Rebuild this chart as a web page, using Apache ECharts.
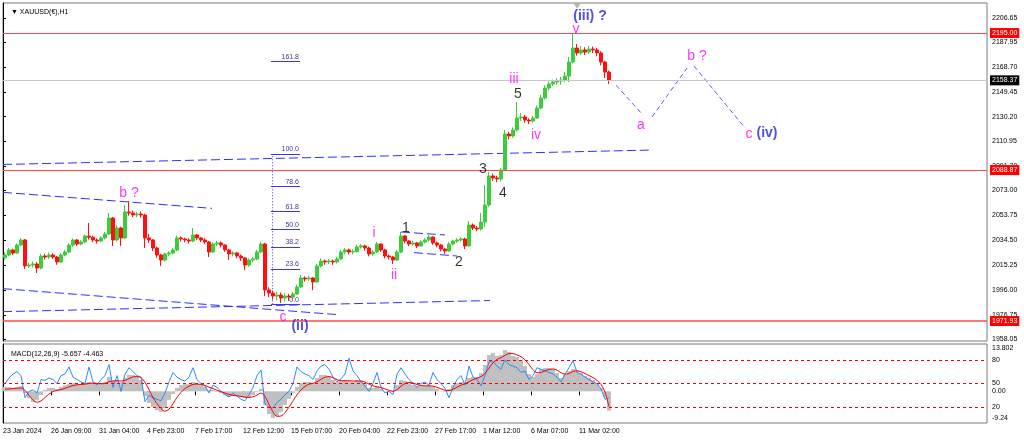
<!DOCTYPE html>
<html><head><meta charset="utf-8">
<script src="https://cdn.jsdelivr.net/npm/echarts@6/dist/echarts.min.js"></script>
<style>html,body{margin:0;padding:0;background:#fff}#c{width:1024px;height:441px}</style>
</head><body><div id="c"></div>
<script>
// ---------- DATA ----------
const timeLabels = ['23 Jan 2024','26 Jan 09:00','31 Jan 04:00','4 Feb 23:00','7 Feb 17:00','12 Feb 12:00','15 Feb 07:00','20 Feb 04:00','22 Feb 23:00','27 Feb 17:00','1 Mar 12:00','6 Mar 07:00','11 Mar 02:00'];
const timeTickPos = [0,12,24,36,48,60,72,84,96,108,120,132,144];
const priceTicks = [2206.65,2187.95,2168.70,2149.45,2130.20,2110.95,2091.70,2073.00,2053.75,2034.50,2015.25,1996.00,1976.75,1958.05];
const macdTicks = [13.802, 0, -9.24];
const oscLevels = [80, 50, 20];
const resistanceLevels = [2195.00, 2088.87, 1971.93];
const bidPrice = 2158.37;
const chartShiftX = 143.5;

// candles: [open, close, low, high]
const candles = [
[2021.0,2023.1,2019.5,2025.0],[2023.1,2027.0,2022.0,2028.5],[2027.0,2024.6,2023.0,2028.0],[2024.6,2030.8,2024.0,2032.0],
[2030.8,2034.7,2030.0,2036.3],[2034.7,2014.6,2012.2,2035.5],[2014.6,2015.3,2013.0,2017.0],[2015.3,2016.1,2013.5,2018.0],[2016.1,2013.0,2009.1,2017.5],
[2013.0,2022.3,2012.0,2024.0],[2022.3,2021.5,2019.5,2024.0],[2021.5,2023.1,2020.0,2025.0],[2023.1,2021.5,2020.0,2024.5],[2021.5,2017.7,2015.5,2022.5],
[2017.7,2023.1,2017.0,2024.5],[2023.1,2025.4,2022.0,2027.0],[2025.4,2030.8,2024.5,2032.0],[2030.8,2034.7,2029.5,2036.0],[2034.7,2031.6,2030.0,2035.5],
[2031.6,2033.2,2030.5,2034.5],[2033.2,2037.8,2032.0,2039.0],[2037.8,2036.9,2035.0,2047.9],[2036.9,2034.7,2033.0,2038.0],[2034.7,2033.9,2032.0,2036.0],
[2033.9,2036.3,2033.0,2037.5],[2036.3,2039.3,2035.0,2041.0],[2039.3,2051.7,2038.5,2055.6],[2051.7,2034.7,2030.1,2052.5],[2034.7,2044.0,2033.5,2046.0],
[2044.0,2036.3,2030.1,2045.0],[2036.3,2056.4,2035.5,2061.8],[2056.4,2055.6,2053.5,2064.9],[2055.6,2054.1,2052.5,2057.5],[2054.1,2054.8,2052.5,2056.5],
[2054.8,2054.1,2052.0,2057.0],[2054.1,2036.3,2028.5,2055.0],[2036.3,2034.7,2032.5,2039.5],[2034.7,2028.5,2026.0,2035.5],[2028.5,2023.1,2021.0,2029.5],
[2023.1,2019.2,2014.6,2024.0],[2019.2,2023.9,2018.0,2025.0],[2023.9,2024.6,2022.0,2026.0],[2024.6,2027.0,2023.5,2028.5],[2027.0,2036.3,2026.0,2038.0],
[2036.3,2035.5,2033.5,2037.5],[2035.5,2034.7,2033.0,2036.5],[2034.7,2033.9,2032.0,2036.0],[2033.9,2038.6,2033.0,2044.0],[2038.6,2036.3,2034.5,2039.5],
[2036.3,2034.7,2033.0,2037.0],[2034.7,2033.2,2031.5,2036.0],[2033.2,2025.4,2021.5,2034.0],[2025.4,2031.6,2024.5,2033.0],[2031.6,2032.4,2030.0,2034.0],
[2032.4,2030.8,2029.0,2033.5],[2030.8,2027.0,2025.5,2031.5],[2027.0,2023.9,2019.2,2028.0],[2023.9,2024.6,2022.0,2026.0],[2024.6,2022.3,2020.5,2025.5],
[2022.3,2020.8,2018.5,2023.5],[2020.8,2015.3,2011.4,2021.5],[2015.3,2019.2,2014.0,2020.5],[2019.2,2020.0,2017.5,2021.5],[2020.0,2025.4,2019.0,2027.0],
[2025.4,2031.6,2024.5,2033.2],[2031.6,1996.0,1991.3,2032.5],[1996.0,1993.6,1990.5,1998.0],[1993.6,1991.3,1988.5,1995.5],[1991.3,1992.1,1988.0,1994.5],
[1992.1,1989.8,1985.9,1994.0],[1989.8,1991.3,1987.0,1993.5],[1991.3,1990.5,1987.5,1993.0],[1990.5,1992.9,1989.0,1994.5],[1992.9,1998.3,1992.0,2000.0],
[1998.3,2005.3,1997.5,2007.5],[2005.3,2004.5,2002.5,2006.5],[2004.5,2005.3,2003.0,2007.0],[2005.3,2002.2,1995.9,2006.0],[2002.2,2014.6,2001.5,2016.0],
[2014.6,2018.4,2013.5,2020.5],[2018.4,2017.7,2015.5,2019.5],[2017.7,2018.4,2016.0,2020.0],[2018.4,2017.7,2015.5,2019.5],[2017.7,2020.0,2016.5,2021.5],
[2020.0,2025.4,2019.0,2027.0],[2025.4,2027.0,2024.0,2028.5],[2027.0,2025.4,2023.5,2028.0],[2025.4,2025.8,2023.5,2027.5],[2025.8,2029.3,2025.0,2031.0],
[2029.3,2030.1,2028.0,2031.5],[2030.1,2028.5,2026.5,2031.0],[2028.5,2023.9,2022.0,2029.5],[2023.9,2025.4,2022.5,2027.0],[2025.4,2031.6,2024.5,2033.2],
[2031.6,2027.0,2025.5,2032.0],[2027.0,2022.3,2020.5,2028.0],[2022.3,2021.5,2019.5,2023.5],[2021.5,2019.2,2016.1,2022.5],[2019.2,2025.4,2018.5,2027.0],
[2025.4,2037.8,2024.5,2040.9],[2037.8,2033.9,2032.0,2038.5],[2033.9,2031.6,2030.0,2034.5],[2031.6,2032.4,2030.5,2034.0],[2032.4,2030.1,2028.5,2033.0],
[2030.1,2033.2,2029.5,2034.5],[2033.2,2034.7,2032.0,2036.0],[2034.7,2037.0,2033.5,2038.6],[2037.0,2032.4,2031.0,2037.5],[2032.4,2030.8,2029.0,2033.5],
[2030.8,2027.7,2026.0,2031.5],[2027.7,2026.2,2023.9,2028.5],[2026.2,2031.6,2025.5,2033.0],[2031.6,2033.9,2030.5,2035.0],[2033.9,2034.7,2032.5,2036.0],
[2034.7,2035.5,2033.5,2037.0],[2035.5,2030.1,2027.7,2036.5],[2030.1,2046.3,2029.5,2049.4],[2046.3,2044.0,2042.5,2047.5],[2044.0,2043.2,2041.5,2045.5],
[2043.2,2048.6,2042.0,2055.6],[2048.6,2061.8,2044.8,2077.3],[2061.8,2084.3,2060.5,2087.4],[2084.3,2082.7,2080.5,2086.0],[2082.7,2082.0,2079.5,2084.5],
[2082.0,2088.9,2080.0,2090.5],[2088.9,2116.8,2088.0,2119.9],[2116.8,2115.3,2112.5,2118.5],[2115.3,2119.9,2114.0,2122.0],[2119.9,2129.2,2119.0,2141.6],
[2129.2,2130.0,2127.0,2133.0],[2130.0,2127.6,2125.5,2131.5],[2127.6,2126.9,2124.5,2129.0],[2126.9,2129.2,2125.5,2131.0],[2129.2,2136.9,2128.5,2139.0],
[2136.9,2144.7,2136.0,2147.0],[2144.7,2152.4,2143.5,2154.5],[2152.4,2155.5,2150.5,2157.5],[2155.5,2157.1,2154.0,2159.0],[2157.1,2157.9,2155.0,2160.0],
[2157.9,2158.6,2155.0,2161.0],[2158.6,2161.7,2157.0,2165.0],[2161.7,2172.6,2157.0,2176.5],[2172.6,2183.4,2171.5,2195.0],[2183.4,2179.6,2177.5,2186.5],
[2179.6,2181.9,2178.0,2185.0],[2181.9,2180.3,2178.0,2184.0],[2180.3,2182.6,2179.0,2185.0],[2182.6,2181.9,2179.5,2184.5],[2181.9,2179.6,2177.0,2183.5],
[2179.6,2172.6,2170.0,2181.0],[2172.6,2164.8,2160.2,2173.5],[2164.8,2158.4,2155.5,2166.0]
];

const macdHist = [1.3,1.2,1.0,1.2, 1.5,-0.5,-2.0,-3.1,-2.5, -1.1,0.4,1.0,1.0,0.7, 1.3,1.8,2.1,2.4,2.1, 2.1,2.4,2.7,2.4,2.1,
 2.1,2.7,4.2,3.0,3.3, 2.7,3.9,4.8,4.8,4.2, 3.3,-1.4,-3.4,-4.6,-5.5, -6.0,-4.9,-2.5,-0.8,1.0, 1.8,2.1,2.1,2.7,2.1,
 1.8,1.3,0.4,0.4,-0.2, -0.5,-1.1,-1.7,-1.4,-1.4, -1.7,-2.0,-1.7,-1.1,-0.2, 0.7,-4.0,-6.6,-7.8,-7.2, -6.0,-4.0,-2.2,-0.5,1.3,
 2.4,2.7,2.7,2.1,3.9, 4.8,4.8,4.2,3.3,2.7, 3.0,3.3,3.0,2.7,3.3, 3.0,2.1,1.0,1.0,1.5, 0.7,0.1,-0.2,0.1,1.8,
 3.3,3.0,2.4,1.8,1.5, 1.5,1.5,1.8,1.3,0.7, 0.1,-0.2,0.7,1.8,2.4, 2.7,2.7,3.9,4.2,4.2, 5.3,7.7,10.6,11.2,10.3,
 10.6,12.0,11.5,10.3,10.0, 9.1,7.4,5.0,4.2,5.0, 6.5,6.8,6.8,6.5,5.3, 3.9,4.8,5.9,6.5,5.9, 5.3,4.5,3.9,3.3,2.4, 1.0,-1.7,-5.657];

const macdSignal = [0.6,0.7,0.8,0.9, 1.0,0.3,-1.2,-2.5,-3.2, -2.8,-1.8,-0.8,-0.1,0.3, 0.5,0.9,1.3,1.7,1.9, 2.0,2.1,2.3,2.4,2.3,
 2.2,2.3,2.8,3.0,3.1, 3.0,3.2,3.7,4.2,4.3, 4.0,2.6,0.5,-1.8,-3.6, -5.0,-5.8,-5.2,-3.6,-1.8, -0.3,0.8,1.5,2.0,2.1,
 2.0,1.7,1.2,0.8,0.3, -0.1,-0.5,-0.9,-1.2,-1.3, -1.5,-1.7,-1.8,-1.6,-1.1, -0.5,-1.5,-3.8,-6.0,-7.3, -7.2,-6.2,-4.6,-2.8,-1.0,
 0.4,1.4,2.1,2.3,2.8, 3.5,4.1,4.3,4.0,3.4, 3.1,3.1,3.1,3.0,3.0, 3.0,2.7,2.1,1.6,1.3, 1.1,0.7,0.3,0.0,0.5,
 1.5,2.3,2.6,2.4,2.0, 1.7,1.6,1.6,1.5,1.2, 0.7,0.3,0.2,0.6,1.2, 1.8,2.2,2.8,3.4,3.8, 4.3,5.2,6.8,8.3,9.3,
 9.8,10.5,11.0,11.0,10.6, 10.1,9.2,7.8,6.3,5.4, 5.5,6.0,6.4,6.5,6.2, 5.4,5.0,5.2,5.8,6.0, 5.7,5.2,4.6,4.0,3.2, 2.0,-0.2,-4.463];

const oscLine = [50,57,62,65, 60,32,40,42,38, 55,54,57,55,50, 60,62,71,58,55, 52,50,71,52,48,
 55,60,74,45,60, 40,62,70,65,60, 58,27,35,32,30, 28,38,52,64,58, 55,53,58,70,55,
 50,47,38,48,45, 40,36,33,38,34, 30,28,36,45,60, 67,24,20,19,26, 30,36,40,50,71,
 65,62,60,55,66, 72,74,68,58,52, 56,62,82,66,60, 52,47,40,50,64, 45,38,40,36,62,
 70,62,55,50,45, 50,52,48,64,55, 50,44,32,45,55, 60,48,72,58,55, 47,60,77,78,72,
 68,80,74,72,70, 64,66,55,60,70, 68,66,64,62,58, 52,62,70,79,64, 62,58,55,52,50, 43,30,32];

// trend / channel lines: [[x, price],[x, price]]
const channelLines = [
  [[0, 2093.2], [162.5, 2104.4]],
  [[0, 2071.6], [52.25, 2059.2]],
  [[0, 1997.0], [84.0, 1976.8]],
  [[0, 1979.2], [121.75, 1987.8]],
  [[99.5, 2040.9], [110.5, 2038.6]],
  [[102.75, 2024.9], [113.5, 2022.3]]
];
// projected path of wave (iv)
const projectionLines = [
  [[153.25, 2154.7], [160.0, 2131.5]],
  [[162.25, 2130.0], [171.0, 2167.9]],
  [[172.75, 2169.5], [185.5, 2121.5]]
];
// fibonacci retracement
const fibLow = 1984.9, fibHigh = 2101.3;
const fibLevels = [0, 23.6, 38.2, 50, 61.8, 78.6, 100, 161.8];
const fibRange = [67, 74.25];
const fibAnchorX = 67.4;

// wave labels [text, x, price]
const magentaLabels = [['b ?',31.5,2071.1],['c',70,1975.1],['i',92.75,2040.1],['ii',97.75,2007.6],['iii',127.75,2159.4],['iv',133.25,2116.0],['v',143.25,2198.1],['a',159.5,2123.8],['b ?',173.5,2177.2],['c',186.5,2116.8]];
const blueLabels = [['(ii)',74.25,1968.1],['(iii) ?',146.75,2208.2],['(iv)',191,2117.6]];
const blackLabels = [['1',100.75,2044.0],['2',114,2017.7],['3',120,2089.5],['4',125,2071.1],['5',128.75,2147.8]];

// ---------- CHART ----------
const FONT = '"Liberation Sans", Arial, sans-serif';
const X_MAX = 246;
const P_MIN = 1956.46, P_MAX = 2218.28;
const atX = arr => arr.map((v, i) => [i + 0.5, v]);
const chart = echarts.init(document.getElementById('c'));

const lineSeries = (pts, color, type, width) => ({
  type: 'line', xAxisIndex: 0, yAxisIndex: 0, data: pts, symbol: 'none', silent: true,
  lineStyle: { color, width, type }, z: 3, animation: false
});
const textSeries = (list, color, size, weight) => ({
  type: 'scatter', xAxisIndex: 0, yAxisIndex: 0, symbolSize: 1, silent: true,
  itemStyle: { color: 'rgba(0,0,0,0)' },
  data: list.map(d => ({ value: [d[1], d[2]], name: d[0] })),
  label: { show: true, position: 'inside', formatter: p => p.name, color, fontSize: size, fontFamily: FONT, fontWeight: weight },
  z: 10, animation: false
});

const fibMark = fibLevels.map(l => {
  const p = fibLow + (fibHigh - fibLow) * l / 100;
  return [{ coord: [fibRange[0], p], label: { formatter: l.toFixed(1) } }, { coord: [fibRange[1], p] }];
});

const levelMarks = resistanceLevels.map(v => ({
  yAxis: v, lineStyle: { color: '#ff4a4a', width: v === resistanceLevels[2] ? 1.6 : 1, type: 'solid' },
  label: { backgroundColor: '#ff0000' }
})).concat([{ yAxis: bidPrice, lineStyle: { color: '#c8c8c8', width: 1, type: 'solid' }, label: { backgroundColor: '#000000' } }]);

const macdLabel = v => v === macdTicks[0] ? '{t|' + v + '}' : v === macdTicks[2] ? '{b|' + v + '}' : '{m|' + v.toFixed(2) + '}';
const richBase = { fontSize: 7, color: '#000', fontFamily: FONT };

const option = {
  animation: false,
  backgroundColor: '#ffffff',
  textStyle: { fontFamily: FONT },
  title: [
    { text: '\u25BC XAUUSD(\u20AC),H1', left: 6, top: 4, textStyle: { fontSize: 7, fontWeight: 'normal', color: '#000', fontFamily: FONT } },
    { text: 'MACD(12,26,9) ' + macdHist[macdHist.length - 1] + ' ' + macdSignal[macdSignal.length - 1], left: 6, top: 346, textStyle: { fontSize: 7, fontWeight: 'normal', color: '#000', fontFamily: FONT } }
  ],
  grid: [
    { left: 3, right: 37, top: 3, height: 338, show: true, borderColor: '#7a7a7a', borderWidth: 1, backgroundColor: '#fff' },
    { left: 3, right: 37, top: 344, height: 79, show: true, borderColor: '#7a7a7a', borderWidth: 1, backgroundColor: '#fff' }
  ],
  xAxis: [
    { type: 'value', gridIndex: 0, min: 0, max: X_MAX, show: false },
    { type: 'value', gridIndex: 1, min: 0, max: X_MAX,
      axisLine: { show: false }, splitLine: { show: false },
      axisTick: { show: true, customValues: timeTickPos, length: 4, lineStyle: { color: '#000' } },
      axisLabel: { customValues: timeTickPos, formatter: v => timeLabels[Math.round(v / 12)], align: 'left', fontSize: 7, color: '#000', margin: 5, fontFamily: FONT } }
  ],
  yAxis: [
    { type: 'value', gridIndex: 0, position: 'right', min: P_MIN, max: P_MAX,
      axisLine: { show: true, lineStyle: { color: '#000' } }, splitLine: { show: false },
      axisTick: { show: true, customValues: priceTicks, length: 3, lineStyle: { color: '#000' } },
      axisLabel: { customValues: priceTicks, formatter: v => v.toFixed(2), fontSize: 7, color: '#000', margin: 5, fontFamily: FONT } },
    { type: 'value', gridIndex: 1, position: 'right', min: macdTicks[2], max: macdTicks[0],
      axisLine: { show: true, lineStyle: { color: '#000' } }, splitLine: { show: false },
      axisTick: { show: false },
      axisLabel: { customValues: macdTicks, formatter: macdLabel, margin: 5,
        rich: { t: Object.assign({ padding: [9, 0, 0, 0] }, richBase), b: Object.assign({ padding: [0, 0, 9, 0] }, richBase), m: richBase } } },
    { type: 'value', gridIndex: 1, position: 'right', min: 0, max: 100,
      axisLine: { show: false }, splitLine: { show: false }, axisTick: { show: false },
      axisLabel: { customValues: oscLevels, formatter: v => String(v), fontSize: 7, color: '#000', margin: 5, fontFamily: FONT } }
  ],
  series: [
    { type: 'candlestick', xAxisIndex: 0, yAxisIndex: 0, silent: true, barWidth: 3,
      data: candles.map((c, i) => [i + 0.5, c[0], c[1], c[2], c[3]]),
      dimensions: ['x', 'open', 'close', 'low', 'high'],
      encode: { x: 'x', y: ['open', 'close', 'low', 'high'] },
      itemStyle: { color: '#3ccc3c', color0: '#ff1010', borderColor: '#3ccc3c', borderColor0: '#ff1010', borderWidth: 1 },
      markLine: { silent: true, symbol: 'none', animation: false, data: levelMarks,
        label: { show: true, position: 'end', formatter: p => Number(p.value).toFixed(2), color: '#fff', fontSize: 7, fontFamily: FONT, padding: [2, 2, 1, 2], distance: 3 } },
      z: 4 },
    ...channelLines.map(l => lineSeries(l, '#2f2fff', [9, 4], 1)),
    ...projectionLines.map(l => lineSeries(l, '#5c5cff', [5, 3], 1)),
    { type: 'line', xAxisIndex: 0, yAxisIndex: 0, symbol: 'none', silent: true,
      data: [[fibAnchorX, fibLow], [fibAnchorX, fibHigh]],
      lineStyle: { color: '#3535ff', width: 1, type: [1, 2] },
      markLine: { silent: true, symbol: 'none', animation: false, data: fibMark,
        lineStyle: { color: '#3535ff', width: 1, type: 'solid' },
        label: { show: true, position: 'insideEndTop', color: '#3c3c9c', fontSize: 7, fontFamily: FONT, distance: 1 } },
      z: 3 },
    { type: 'scatter', xAxisIndex: 0, yAxisIndex: 0, silent: true, data: [[chartShiftX, P_MAX]],
      symbol: 'triangle', symbolRotate: 180, symbolSize: [7, 5], symbolOffset: [0, 3], itemStyle: { color: '#a0a0a0' }, z: 5 },
    textSeries(magentaLabels, '#ff00ff', 14, 'normal'),
    textSeries(blueLabels, '#2424e0', 14, 'bold'),
    textSeries(blackLabels, '#000000', 14, 'normal'),
    { type: 'bar', xAxisIndex: 1, yAxisIndex: 1, data: atX(macdHist), barWidth: 4, silent: true,
      itemStyle: { color: '#c0c0c0' }, z: 2 },
    { type: 'line', xAxisIndex: 1, yAxisIndex: 2, data: atX(oscLine), symbol: 'none', silent: true,
      lineStyle: { color: '#2b8cff', width: 1 }, z: 3,
      markLine: { silent: true, symbol: 'none', animation: false, data: oscLevels.map(v => ({ yAxis: v })),
        lineStyle: { color: '#ff0000', width: 1, type: [3, 3] }, label: { show: false } } },
    { type: 'line', xAxisIndex: 1, yAxisIndex: 1, data: atX(macdSignal), symbol: 'none', silent: true, smooth: 0.3,
      lineStyle: { color: '#ff0000', width: 1 }, z: 4 }
  ]
};
chart.setOption(option);
</script>
</body></html>
